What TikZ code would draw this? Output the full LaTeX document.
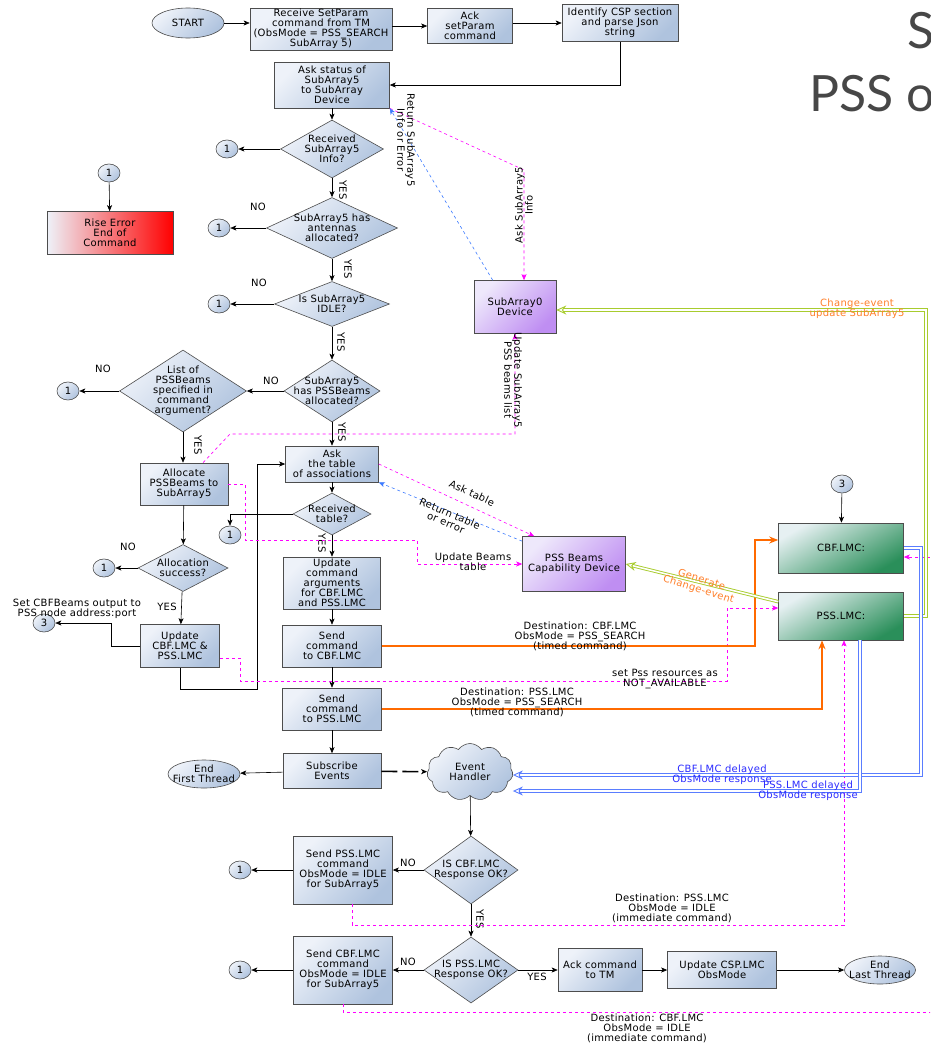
\documentclass[tikz,border=0pt]{standalone}
\usepackage{fontspec}
\setmainfont{DejaVu Sans}[LetterSpace=3]
\newfontfamily\titlefont{Lato}
\usetikzlibrary{shapes.geometric,shapes.symbols,arrows.meta,calc}

\definecolor{edge}{HTML}{4D4D4D}
\definecolor{boxa}{HTML}{EEF2F9}
\definecolor{boxb}{HTML}{AFC3DE}
\definecolor{purpa}{HTML}{EEE8FB}
\definecolor{purpb}{HTML}{BF8EF2}
\definecolor{grna}{HTML}{E6F0F2}
\definecolor{grnb}{HTML}{2A8F5A}
\definecolor{pinkc}{HTML}{FF00FF}
\definecolor{bluec}{HTML}{3D7BFF}
\definecolor{rspc}{HTML}{5A7DFF}
\definecolor{orangec}{HTML}{FF6A00}
\definecolor{greenc}{HTML}{A8CC2E}
\definecolor{orlab}{HTML}{FF7F2A}
\definecolor{bllab}{HTML}{2B2BFF}
\definecolor{titc}{HTML}{474747}

\begin{document}
\begin{tikzpicture}[x=1pt,y=-1pt,font=\fontsize{10}{10}\selectfont,
  line width=0.6pt,
  >={Stealth[length=6pt,width=5pt,inset=1.5pt]},
  box/.style 2 args={rectangle,draw=edge,top color=boxa,bottom color=boxb,
    shading angle=45,minimum width=#1,minimum height=#2,inner sep=1pt,align=center},
  dec/.style 2 args={diamond,draw=edge,top color=boxa,bottom color=boxb,
    shading angle=45,minimum width=#1,minimum height=#2,inner sep=0pt},
  term/.style 2 args={ellipse,draw=edge,top color=boxa,bottom color=boxb,
    shading angle=45,minimum width=#1,minimum height=#2,inner sep=0pt},
  conn/.style={ellipse,draw=edge,top color=boxa,bottom color=boxb,
    shading angle=45,minimum width=22,minimum height=18,inner sep=0pt},
  dev/.style 2 args={box={#1}{#2},top color=purpa,bottom color=purpb,shading angle=45},
  lmc/.style 2 args={box={#1}{#2},top color=grna,bottom color=grnb,shading angle=30},
  txt/.style={align=center,inner sep=0pt},
  yes/.style={inner sep=0pt,rotate=-90},
  flow/.style={draw=black,->},
  req/.style={draw=pinkc,dashed,line width=0.6pt,->},
  ret/.style={draw=bluec,dashed,line width=0.6pt,->},
  cmd/.style={draw=orangec,line width=2.2pt,-{Stealth[length=9pt,width=7pt]}},
  evt/.style={draw=greenc,double=white,double distance=1.6pt,line width=0.9pt,
    -{Stealth[open,length=10pt,width=9pt]}},
  rsp/.style={draw=rspc,double=white,double distance=1.5pt,line width=0.9pt,
    -{Stealth[open,length=10pt,width=9pt]}}]
  \path[use as bounding box,fill=white] (0,0) rectangle (930,1047);
  \clip (0,0) rectangle (930,1047);

  % title, cut by the page edge
  \node[font=\titlefont\fontsize{50}{50}\selectfont,text=titc,anchor=base west,inner sep=0pt] (ttl1) at (907,48) {S};
  \node[font=\titlefont\fontsize{50}{50}\selectfont,text=titc,anchor=base west,inner sep=0pt] (ttl2) at (809,111) {PSS o};

  % first thread
  \node[term={72}{30}] (start) at (188,23) {START};
  \node[box={142}{42}] (recv) at (321,29) {Receive SetParam\\command from TM\\(ObsMode = PSS\_SEARCH\\SubArray 5)};
  \node[box={85}{35}] (ack) at (470,26) {Ack\\setParam\\command};
  \node[box={116}{37}] (ident) at (620,23) {Identify CSP section\\and parse Json\\string};
  \node[box={115}{46}] (askst) at (332,85) {Ask status of\\SubArray5\\to SubArray\\Device};
  \node[dec={103}{58},label={[txt]center:Received\\SubArray5\\Info?}] (recvinfo) at (332,149) {};
  \node[conn] (c1a) at (227,149) {1};
  \node[conn] (c1top) at (109,173) {1};
  \node[box={126}{43},left color=boxa,right color=red] (err) at (110,233) {Rise Error\\End of\\Command};
  \node[dec={131}{61},label={[txt]center:SubArray5 has\\antennas\\allocated?}] (antdiam) at (332,228) {};
  \node[conn] (c1b) at (219,228) {1};
  \node[dec={115}{45},label={[txt]center:Is SubArray5\\IDLE?}] (idle) at (332,304) {};
  \node[conn] (c1c) at (219,304) {1};
  \node[dec={96}{62},label={[txt]center:SubArray5\\has PSSBeams\\allocated?}] (hasbeams) at (332,391) {};
  \node[dec={127}{82},label={[txt]center:List of\\PSSBeams\\specified in\\command\\argument?}] (listb) at (183,391) {};
  \node[conn] (c1d) at (68,391) {1};
  \node[box={88}{42}] (alloc) at (184,484) {Allocate\\PSSBeams to\\SubArray5};
  \node[dec={90}{47},label={[txt]center:Allocation\\success?}] (allocok) at (183,568) {};
  \node[conn] (c1h) at (104,568) {1};
  \node[box={79}{43}] (updlmc) at (180,646) {Update\\CBF.LMC \&\\PSS.LMC};
  \node[conn] (c3a) at (44,623) {3};
  \node[box={93}{36}] (asktab) at (332,464) {Ask\\the table\\of associations};
  \node[dec={78}{42},label={[txt]center:Received\\table?}] (rectab) at (332,514) {};
  \node[conn] (c1e) at (230,535) {1};
  \node[box={97}{52}] (updargs) at (332,583) {Update\\command\\arguments\\for CBF.LMC\\and PSS.LMC};
  \node[box={99}{42}] (sendcbf) at (332,646) {Send\\command\\to CBF.LMC};
  \node[box={99}{42}] (sendpss) at (332,709) {Send\\command\\to PSS.LMC};
  \node[box={98}{35}] (subs) at (332,771) {Subscribe\\Events};
  \node[term={72}{28},label={[txt]center:End\\First Thread}] (endfirst) at (204,774) {};

  % last thread
  \node[cloud,cloud puffs=11,cloud puff arc=110,aspect=1.6,draw=edge,top color=boxa,bottom color=boxb,
    shading angle=45,minimum width=86,minimum height=57,inner sep=0pt,align=center] (evh) at (470,772) {Event\\Handler};
  \node[dec={94}{68},label={[txt]center:IS CBF.LMC\\Response OK?}] (cbfok) at (471,870) {};
  \node[box={99}{68}] (pssidle) at (343,870) {Send PSS.LMC\\command\\ObsMode = IDLE\\for SubArray5};
  \node[conn] (c1f) at (240,870) {1};
  \node[dec={94}{66},label={[txt]center:IS PSS.LMC\\Response OK?}] (pssok) at (471,970) {};
  \node[box={99}{68}] (cbfidle) at (343,970) {Send CBF.LMC\\command\\ObsMode = IDLE\\for SubArray5};
  \node[conn] (c1g) at (240,970) {1};
  \node[box={84}{43}] (acktm) at (600,970) {Ack command\\to TM};
  \node[box={109}{37}] (updcsp) at (722,970) {Update CSP.LMC\\ObsMode};
  \node[term={71}{28},label={[txt]center:End\\Last Thread}] (endlast) at (880,970) {};

  % devices
  \node[dev={82}{53}] (sa0) at (515,307) {SubArray0\\Device};
  \node[dev={103}{55}] (pssbeams) at (574,564) {PSS Beams\\Capability Device};
  \node[conn] (c3b) at (842,484) {3};
  \node[lmc={125}{50}] (cbf) at (841,548) {CBF.LMC:};
  \node[lmc={125}{48}] (pss) at (841,616) {PSS.LMC:};

  % YES / NO
  \node[yes] (y1) at (343,190) {YES};
  \node[yes] (y2) at (348,269) {YES};
  \node[yes] (y3) at (341,342) {YES};
  \node[yes] (y4) at (342,432) {YES};
  \node[yes] (y5) at (198,445) {YES};
  \node[yes] (y6) at (322,543) {YES};
  \node[yes] (y7) at (480,919) {YES};
  \node[txt] (y8) at (167,607) {YES};
  \node[txt] (y9) at (537,977) {YES};
  \node[txt] (n1) at (258,207) {NO};
  \node[txt] (n2) at (259,283) {NO};
  \node[txt] (n3) at (271,381) {NO};
  \node[txt] (n4) at (103,369) {NO};
  \node[txt] (n5) at (128,547) {NO};
  \node[txt] (n6) at (408,863) {NO};
  \node[txt] (n7) at (408,962) {NO};

  % flow
  \draw[flow] (start) -- (start -| recv.west);
  \draw[flow] (recv.east |- ack) -- (ack);
  \draw[flow] (ack.east |- ident) -- (ident);
  \draw[flow] (ident.south) |- (askst.east);
  \draw[flow] (askst) -- (recvinfo);
  \draw[flow] (recvinfo) -- (c1a);
  \draw[flow] (c1top) -- (err);
  \draw[flow] (recvinfo) -- (antdiam);
  \draw[flow] (antdiam) -- (c1b);
  \draw[flow] (antdiam) -- (idle);
  \draw[flow] (idle) -- (c1c);
  \draw[flow] (idle) -- (hasbeams);
  \draw[flow] (hasbeams) -- (listb);
  \draw[flow] (listb) -- (c1d);
  \draw[flow] (listb) -- (alloc.north -| listb);
  \draw[flow] (alloc) -- (allocok);
  \draw[flow] (allocok) -- (c1h);
  \draw[flow] (allocok) -- (updlmc);
  \draw[flow] (updlmc.west) -- ++(-29,0) |- (c3a.east);
  \coordinate (lp) at (257,689);
  \draw[flow] (updlmc.south) |- (lp) |- (asktab.west);
  \draw[flow] (hasbeams) -- (asktab);
  \draw[flow] (asktab) -- (rectab);
  \draw[flow] (rectab.west) -| (c1e.north);
  \draw[flow] (rectab) -- (updargs);
  \draw[flow] (updargs) -- (sendcbf);
  \draw[flow] (sendcbf) -- (sendpss);
  \draw[flow] (sendpss) -- (subs);
  \draw[flow] (subs) -- (endfirst);
  \draw[flow,line width=1.6pt,dash pattern=on 16pt off 5pt] (subs) -- (evh);
  \draw[flow] (evh) -- (cbfok);
  \draw[flow] (cbfok) -- (pssidle);
  \draw[flow] (pssidle) -- (c1f);
  \draw[flow] (cbfok) -- (pssok);
  \draw[flow] (pssok) -- (cbfidle);
  \draw[flow] (cbfidle) -- (c1g);
  \draw[flow] (pssok) -- (acktm);
  \draw[flow] (acktm) -- (updcsp);
  \draw[flow] (updcsp) -- (endlast);
  \draw[flow] (c3b) -- (cbf);

  % requests and replies
  \coordinate (askinfo) at (524,170);
  \draw[req] (askst.south east) -- (askinfo) -- (askinfo |- sa0.north);
  \draw[ret] ($(sa0.north west)+(19,0)$) -- (askst.south east);
  \coordinate (upd1) at (230,434);
  \draw[req] ($(alloc.north)+(19,0)$) -- (upd1) -| (sa0.south);
  \draw[req] (asktab.east) -- ($(pssbeams.north west)+(12,0)$);
  \draw[ret] ($(pssbeams.north west)+(0,5)$) -- (asktab.south east);
  \coordinate (ub1) at (417,540);
  \draw[req] (alloc.east) -- ++(17,0) |- (ub1) |- (pssbeams.west);
  \coordinate (np1) at (240,681);
  \coordinate (np2) at (727,608);
  \draw[req] ($(updlmc.east)+(0,12)$) -| (np1) -| (np2) -- (np2 -| pss.west);
  \coordinate (pi1) at (844,925);
  \draw[req] ($(pssidle.south)+(9,0)$) |- (pi1) -- (pi1 |- pss.south);
  \coordinate (ci1) at (945,1012);
  \coordinate (ci2) at (945,557);
  \draw[req] (cbfidle.south) |- (ci1) -- (ci2) -- (ci2 -| cbf.east);

  % commands to the LMCs
  \coordinate (or1) at (755,540);
  \draw[cmd] (sendcbf.east) -| (or1) -- (or1 -| cbf.west);
  \draw[cmd] (sendpss.east) -| ($(pss.south)+(-19,0)$);

  % change events and responses
  \coordinate (gr) at (926,310);
  \draw[evt] (pss.east) -| (gr) -- (gr -| sa0.east);
  \draw[evt] ($(pss.north west)+(0,10)$) -- (pssbeams.east);
  \coordinate (bl1) at (921,775);
  \draw[rsp] (cbf.east) -| (bl1) -- (bl1 -| evh.east);
  \draw[rsp] ($(pss.south)+(19,0)$) |- ($(evh.east)+(0,19)$);

  % connector labels
  \node[txt,rotate=90] (lask) at (524,205) {Ask SubArray5\\Info};
  \node[txt,rotate=-90] (lret) at (406,140) {Return SubArray5\\Info or Error};
  \node[txt,rotate=-90] (lupd) at (513,380) {Update SubArray5\\PSS beams list};
  \node[txt,text=orlab] (lchg) at (857,309) {Change-event\\update SubArray5};
  \node[txt,rotate=-25] (lasktab) at (472,493) {Ask table};
  \node[txt,rotate=-23] (lrettab) at (448,518) {Return table\\or error};
  \node[txt] (lubt) at (473,562) {Update Beams\\table};
  \node[txt,text=orlab,rotate=-17] (lgen) at (700,585) {Generate\\Change-event};
  \node[txt] (ldcbf) at (580,636) {Destination: CBF.LMC\\ObsMode = PSS\_SEARCH\\(timed command)};
  \node[txt] (ldpss) at (517,702) {Destination: PSS.LMC\\ObsMode = PSS\_SEARCH\\(timed command)};
  \node[txt] (lnav) at (665,679) {set Pss resources as\\NOT\_AVAILABLE};
  \node[txt,text=bllab] (lcbfd) at (722,775) {CBF.LMC delayed\\ObsMode response};
  \node[txt,text=bllab] (lpssd) at (808,791) {PSS.LMC delayed\\ObsMode response};
  \node[txt] (lipss) at (672,908) {Destination: PSS.LMC\\ObsMode = IDLE\\(immediate command)};
  \node[txt] (licbf) at (647,1028) {Destination: CBF.LMC\\ObsMode = IDLE\\(immediate command)};
  \node[txt] (lset3) at (77,609) {Set CBFBeams output to\\PSS node address:port};
\end{tikzpicture}
\end{document}
